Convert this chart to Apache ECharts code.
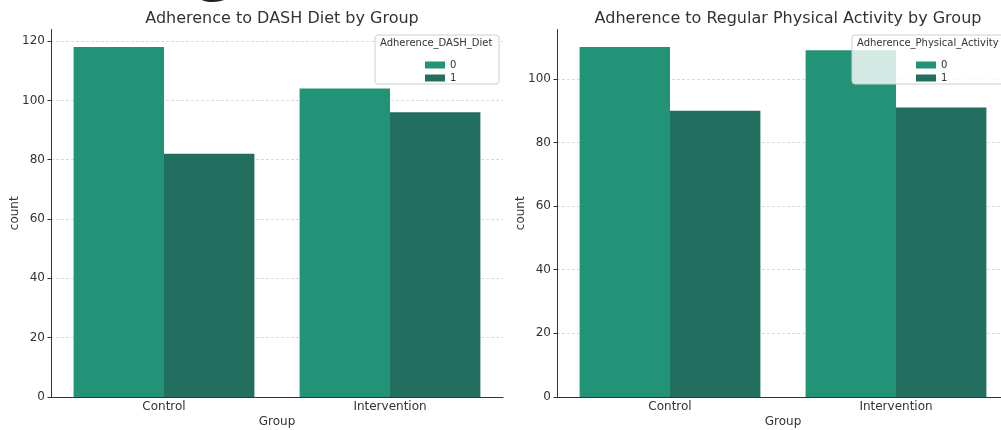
<!DOCTYPE html>
<html>
<head>
<meta charset="utf-8">
<script src="https://cdn.jsdelivr.net/npm/echarts@6/dist/echarts.min.js"></script>
<style>
  html, body { margin: 0; padding: 0; background: #fff; }
  #main { width: 1001px; height: 430px; }
</style>
</head>
<body>
<div id="main"></div>
<script>
// data
var groups = ['Control', 'Intervention'];
var dashNo = [118, 104];      // Adherence_DASH_Diet = 0
var dashYes = [82, 96];       // Adherence_DASH_Diet = 1
var activityNo = [110, 109];  // Adherence_Physical_Activity = 0
var activityYes = [90, 91];   // Adherence_Physical_Activity = 1

var col0 = '#239378';
var col1 = '#226e5f';
var font = 'DejaVu Sans';
var grey = '#333';

var chart = echarts.init(document.getElementById('main'), null, { renderer: 'canvas' });

function yAx(idx, max, n) {
  // last split line (the max) is hidden
  var cols = [];
  for (var i = 0; i < n; i++) cols.push('#d0d0d0');
  cols.push('rgba(0,0,0,0)');
  return {
    gridIndex: idx,
    type: 'value',
    min: 0,
    max: max,
    interval: 20,
    name: 'count',
    nameLocation: 'middle',
    nameGap: 30,
    nameMoveOverlap: false,
    nameTextStyle: { fontFamily: font, fontSize: 12, color: grey },
    axisLine: { show: true, lineStyle: { color: grey, width: 1 } },
    axisTick: { show: true, length: 3.5, lineStyle: { color: grey } },
    axisLabel: { showMaxLabel: false, margin: 6, fontFamily: font, fontSize: 12, color: grey },
    splitLine: { show: true, lineStyle: { color: cols, type: [3, 2], width: 0.8 } }
  };
}

function xAx(idx) {
  return {
    gridIndex: idx,
    type: 'category',
    data: groups,
    name: 'Group',
    nameLocation: 'middle',
    nameGap: 19,
    nameMoveOverlap: false,
    nameTextStyle: { fontFamily: font, fontSize: 12, color: grey },
    axisLine: { lineStyle: { color: grey, width: 1 } },
    axisTick: { alignWithLabel: true, length: 3.5, lineStyle: { color: grey } },
    axisLabel: { margin: 4, fontFamily: font, fontSize: 12, color: grey },
    splitLine: { show: false }
  };
}

function bar(name, data, color, idx) {
  return {
    name: name,
    type: 'bar',
    xAxisIndex: idx,
    yAxisIndex: idx,
    data: data,
    barWidth: '40%',
    barGap: '0%',
    itemStyle: { color: color },
    emphasis: { disabled: true },
    animation: false
  };
}

function legendBox(x, y, w, h, title) {
  return [
    {
      type: 'rect', z: 3,
      shape: { x: x, y: y, width: w, height: h, r: 3 },
      style: { fill: 'rgba(255,255,255,0.8)', stroke: '#cfcfcf', lineWidth: 1 }
    },
    {
      type: 'text', z: 5,
      left: x + 5, top: y + 3,
      style: { text: title, font: '10px "DejaVu Sans"', fill: grey }
    }
  ];
}

var option = {
  backgroundColor: '#fff',
  animation: false,
  title: [
    { text: 'Adherence to DASH Diet by Group', left: 277, top: 6, textAlign: 'center',
      textStyle: { fontFamily: font, fontSize: 16, fontWeight: 'normal', color: grey } },
    { text: 'Adherence to Regular Physical Activity by Group', left: 783, top: 6, textAlign: 'center',
      textStyle: { fontFamily: font, fontSize: 16, fontWeight: 'normal', color: grey } }
  ],
  grid: [
    { left: 51, top: 29.5, width: 452, bottom: 33, outerBoundsMode: 'none', containLabel: false },
    { left: 557, top: 29.5, width: 452, bottom: 33, outerBoundsMode: 'none', containLabel: false }
  ],
  legend: [
    { data: ['0', '1'], orient: 'vertical', left: 420, top: 55, icon: 'rect',
      itemWidth: 20, itemHeight: 7, itemGap: 3, selectedMode: false, z: 4,
      textStyle: { fontFamily: font, fontSize: 10, color: grey, lineHeight: 10 } },
    { data: ['0', '1'], orient: 'vertical', left: 911, top: 55, icon: 'rect',
      itemWidth: 20, itemHeight: 7, itemGap: 3, selectedMode: false, z: 4,
      textStyle: { fontFamily: font, fontSize: 10, color: grey, lineHeight: 10 } }
  ],
  xAxis: [xAx(0), xAx(1)],
  yAxis: [yAx(0, 123.9, 7), yAx(1, 115.5, 6)],
  series: [
    bar('0', dashNo, col0, 0),
    bar('1', dashYes, col1, 0),
    bar('0', activityNo, col0, 1),
    bar('1', activityYes, col1, 1)
  ],
  graphic: legendBox(375, 35, 124, 49, 'Adherence_DASH_Diet')
    .concat(legendBox(852, 35, 160, 49, 'Adherence_Physical_Activity'))
    .concat([
      // fragments of cropped text above the figure
      { type: 'text', z: 5, left: 194, top: -76,
        style: { text: 'g', font: '80px "Liberation Serif"', fill: '#222' } },
      { type: 'text', z: 5, left: -7, top: -33,
        style: { text: ')', font: '36px "Liberation Serif"', fill: '#222' } }
    ])
};

chart.setOption(option);
</script>
</body>
</html>
